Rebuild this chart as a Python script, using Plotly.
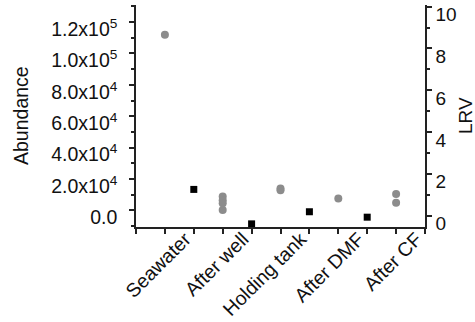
import plotly.graph_objects as go

categories = ["Seawater", "After well", "Holding tank", "After DMF", "After CF"]
# abundance replicate values per stage (grey dots, left axis)
abundance = [
    [112000],
    [8900, 6400, 4500, 300],
    [14000, 12800],
    [7500],
    [10400, 4900],
]
# LRV between successive stages (black squares, right axis)
lrv = [1.25, -0.40, 0.18, -0.08]

left_ticks = [0, 20000, 40000, 60000, 80000, 100000, 120000]
left_text = ["0.0", "2.0x10<sup>4</sup>", "4.0x10<sup>4</sup>", "6.0x10<sup>4</sup>",
             "8.0x10<sup>4</sup>", "1.0x10<sup>5</sup>", "1.2x10<sup>5</sup>"]
right_ticks = [0, 2, 4, 6, 8, 10]

FONT = "Liberation Sans, Arial, sans-serif"

gx, gy = [], []
for i, vals in enumerate(abundance):
    for v in vals:
        gx.append(2 * i + 1)
        gy.append(v)
bx = [2 * i + 2 for i in range(len(lrv))]

fig = go.Figure()
fig.add_trace(go.Scatter(x=gx, y=gy, mode="markers", xaxis="x", yaxis="y",
                         marker=dict(color="#8c8c8c", size=8, symbol="circle"),
                         showlegend=False))
fig.add_trace(go.Scatter(x=bx, y=lrv, mode="markers", xaxis="x", yaxis="y2",
                         marker=dict(color="#000000", size=7, symbol="square"),
                         showlegend=False))
# invisible trace to activate label axis
fig.add_trace(go.Scatter(x=[0.5], y=[0], mode="markers", xaxis="x2", yaxis="y",
                         marker=dict(opacity=0), showlegend=False, hoverinfo="skip"))

fig.update_layout(
    width=475, height=322,
    margin=dict(l=136, r=50, t=5, b=95),
    paper_bgcolor="white", plot_bgcolor="white",
    font=dict(family=FONT, size=19, color="#111"),
    xaxis=dict(range=[0, 10], tickvals=list(range(0, 11)), showticklabels=False,
               ticks="outside", ticklen=5, tickwidth=1.5, tickcolor="#222",
               showline=True, linecolor="#222", linewidth=1.5, automargin=False,
               showgrid=False, zeroline=False, fixedrange=True),
    xaxis2=dict(range=[0, 10], overlaying="x", anchor="y", side="bottom",
                tickvals=[2 * i + 1.7 for i in range(len(categories))],
                ticktext=categories, tickangle=-45, ticks="", ticklen=0,
                showline=False, showgrid=False, zeroline=False, automargin=False,
                ticklabelstandoff=-4,
                tickfont=dict(family=FONT, size=19.5)),
    yaxis=dict(range=[-10600, 130900], tickvals=left_ticks, ticktext=left_text,
               ticks="outside", ticklen=5, tickwidth=1.5, tickcolor="#222",
               showline=True, linecolor="#222", linewidth=1.5, automargin=False,
               showgrid=False, zeroline=False, ticklabelshift=7,
               ticklabelstandoff=8,
               tickfont=dict(family=FONT, size=19.5),
               minor=dict(tickvals=[-10000, 10000, 30000, 50000, 70000, 90000, 110000, 130000],
                          ticks="outside", ticklen=3, tickwidth=1.5, tickcolor="#222",
                          showgrid=False)),
    yaxis2=dict(range=[-0.55, 10.08], overlaying="y", side="right", anchor="x",
                tickvals=right_ticks, ticks="outside", ticklen=5, tickwidth=1.5,
                tickcolor="#222", showline=True, linecolor="#222", linewidth=1.5,
                showgrid=False, zeroline=False, ticklabelshift=8, automargin=False,
                tickfont=dict(family=FONT, size=19),
                minor=dict(tickvals=[1, 3, 5, 7, 9], ticks="outside", ticklen=3,
                           tickwidth=1.5, tickcolor="#222", showgrid=False)),
    annotations=[
        dict(text="Abundance", xref="paper", yref="paper", x=0, y=0.5,
             xanchor="center", yanchor="middle", xshift=-115, textangle=-90,
             showarrow=False, font=dict(family=FONT, size=19.5)),
        dict(text="LRV", xref="paper", yref="paper", x=1, y=0.5,
             xanchor="center", yanchor="middle", xshift=40, textangle=-90,
             showarrow=False, font=dict(family=FONT, size=19)),
    ],
)

fig.write_html("out.html")
